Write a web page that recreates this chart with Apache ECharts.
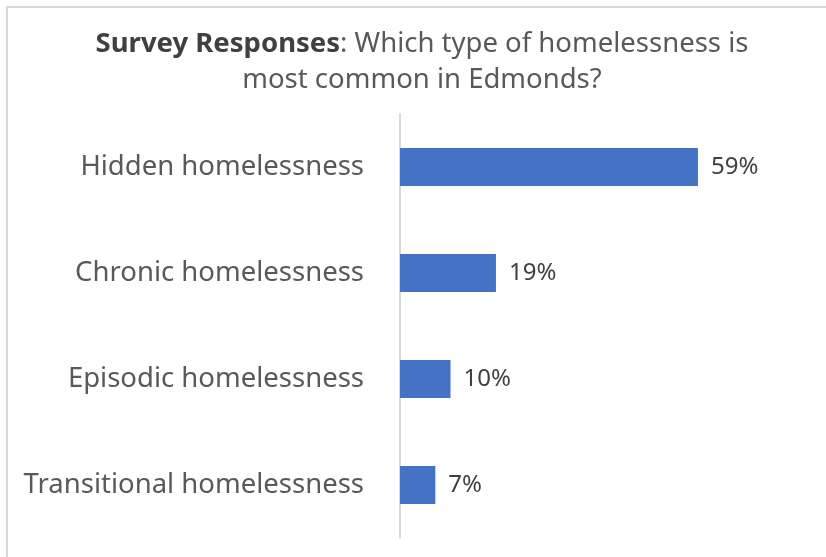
<!DOCTYPE html>
<html>
<head>
<meta charset="utf-8">
<script src="https://cdn.jsdelivr.net/npm/echarts@6/dist/echarts.min.js"></script>
<style>html,body{margin:0;padding:0;background:#fff}#c{width:826px;height:557px}</style>
</head>
<body>
<div id="c"></div>
<script>
const categories = ["Hidden homelessness", "Chronic homelessness", "Episodic homelessness", "Transitional homelessness"];
const values = [59, 19, 10, 7];

const chart = echarts.init(document.getElementById('c'), null, {renderer: 'canvas'});
const font = '"Noto Sans", "Open Sans", sans-serif';
chart.setOption({
  animation: false,
  backgroundColor: '#ffffff',
  title: {
    text: '{b|Survey Responses}{n|: Which type of homelessness is}\n{n|most common in Edmonds?}',
    left: 422,
    textAlign: 'center',
    top: 26,
    padding: 0,
    textStyle: {
      fontFamily: font,
      fontWeight: 'normal',
      rich: {
        b: {fontFamily: font, fontSize: 27.5, fontWeight: 'bold', color: '#404040', lineHeight: 36},
        n: {fontFamily: font, fontSize: 27.5, fontWeight: 'normal', color: '#595959', lineHeight: 36}
      }
    }
  },
  graphic: [
    {type: 'line', shape: {x1: 6, y1: 7, x2: 826, y2: 7}, style: {stroke: '#d9d9d9', lineWidth: 2}, silent: true},
    {type: 'line', shape: {x1: 7, y1: 6, x2: 7, y2: 557}, style: {stroke: '#d9d9d9', lineWidth: 2}, silent: true}
  ],
  grid: {left: 400, right: 72.5, top: 114, bottom: 19, containLabel: false},
  xAxis: {
    type: 'value', min: 0, max: 70,
    show: false
  },
  yAxis: {
    type: 'category',
    data: categories,
    inverse: true,
    axisLine: {show: true, lineStyle: {color: '#d9d9d9', width: 2}},
    axisTick: {show: false},
    axisLabel: {color: '#595959', fontFamily: font, fontSize: 27.5, margin: 36}
  },
  series: [{
    type: 'bar',
    data: values,
    barCategoryGap: '64%',
    itemStyle: {color: '#4472C4'},
    label: {
      show: true, position: 'right', distance: 13,
      formatter: '{c}%',
      color: '#404040', fontFamily: font, fontSize: 24
    }
  }]
});
</script>
</body>
</html>
